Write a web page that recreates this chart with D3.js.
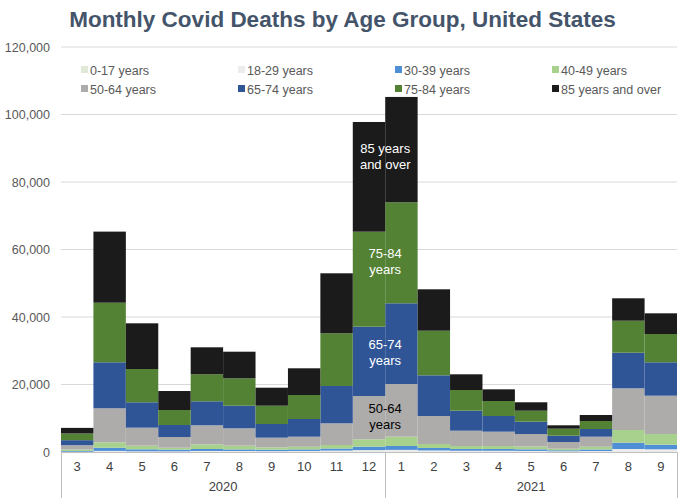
<!DOCTYPE html>
<html>
<head>
<meta charset="utf-8">
<script src="https://cdn.jsdelivr.net/npm/d3@7"></script>
<style>
	body { margin: 0; background: #fff; }
	text { font-family: "Liberation Sans", Arial, sans-serif; }
</style>
</head>
<body>
<div id="chart"></div>
<script>
// month labels and the year each one belongs to
const months = ["3", "4", "5", "6", "7", "8", "9", "10", "11", "12", "1", "2", "3", "4", "5", "6", "7", "8", "9"]
const years = ["2020", "2020", "2020", "2020", "2020", "2020", "2020", "2020", "2020", "2020",
	"2021", "2021", "2021", "2021", "2021", "2021", "2021", "2021", "2021"]

const ageGroups = ["0-17 years", "18-29 years", "30-39 years", "40-49 years",
	"50-64 years", "65-74 years", "75-84 years", "85 years and over"]

// deaths per month
const age0_17 = [5, 20, 15, 10, 25, 20, 15, 20, 30, 50, 60, 40, 30, 30, 20, 15, 20, 80, 80]
const age18_29 = [80, 300, 200, 200, 285, 270, 245, 290, 390, 520, 570, 410, 340, 330, 300, 195, 270, 810, 720]
const age30_39 = [220, 950, 585, 500, 580, 480, 430, 460, 620, 1000, 1150, 740, 530, 520, 480, 300, 460, 1870, 1360]
const age40_49 = [450, 1600, 1070, 560, 1390, 1100, 700, 800, 1030, 2190, 2760, 1180, 880, 900, 830, 470, 820, 3760, 3170]
const age50_64 = [1270, 10080, 5330, 3170, 5630, 5150, 2850, 2970, 6430, 12830, 15610, 8300, 4530, 4240, 3700, 1980, 2970, 12350, 11350]
const age65_74 = [1480, 13630, 7530, 3560, 7110, 6700, 4060, 5240, 11060, 20540, 23910, 12050, 5930, 4650, 3650, 1880, 2270, 10550, 9900]
const age75_84 = [1980, 17660, 9860, 4440, 8000, 8110, 5420, 7110, 15610, 28150, 29930, 13220, 6130, 4440, 3260, 2070, 2370, 9480, 8380]
const age85 = [1660, 21060, 13540, 5630, 8000, 7890, 5330, 7910, 17780, 32500, 31210, 12270, 4650, 3460, 2490, 1000, 1780, 6640, 6130]

const yTicks = [0, 20000, 40000, 60000, 80000, 100000, 120000]

const series = [age0_17, age18_29, age30_39, age40_49, age50_64, age65_74, age75_84, age85]
const colors = ["#dfe9d6", "#ececec", "#4f8fd6", "#a9d18e", "#aeabab", "#2f5597", "#548235", "#1b1b1b"]

const W = 689, H = 500
const margin = {top: 47, right: 12, bottom: 48, left: 61}
const w = W - margin.left - margin.right,
	h = H - margin.top - margin.bottom

const svg = d3.select("#chart")
	.append("svg")
	.attr("width", W)
	.attr("height", H)

svg.append("text")
	.attr("x", W / 2 - 2)
	.attr("y", 27)
	.attr("text-anchor", "middle")
	.attr("font-size", 22.5)
	.attr("font-weight", "bold")
	.attr("fill", "#44546a")
	.text("Monthly Covid Deaths by Age Group, United States")

const g = svg.append("g")
	.attr("transform", `translate(${margin.left},${margin.top})`)

const x = d3.scaleBand()
	.domain(d3.range(months.length))
	.range([0, w])
	.padding(0)

const y = d3.scaleLinear()
	.domain([0, 120000])
	.range([h, 0])

// gridlines
g.append("g")
	.selectAll("line")
	.data(yTicks)
	.enter()
	.append("line")
	.attr("x1", 0)
	.attr("x2", w)
	.attr("y1", d => y(d))
	.attr("y2", d => y(d))
	.attr("stroke", "#d9d9d9")
	.attr("stroke-width", 1)

const yAxis = g.append("g")
	.call(d3.axisLeft(y).tickValues(yTicks).tickFormat(d3.format(",")).tickSize(0).tickPadding(11))
yAxis.select(".domain").remove()
yAxis.selectAll("text")
	.attr("font-size", 12.5)
	.attr("fill", "#595959")
	.style("font-family", "'Liberation Sans', Arial, sans-serif")

// stacked bars
const table = months.map((m, i) => {
	const row = {i: i}
	ageGroups.forEach((a, k) => { row[a] = series[k][i] })
	return row
})

const stacked = d3.stack().keys(ageGroups)(table)

g.append("g")
	.selectAll("g")
	.data(stacked)
	.enter()
	.append("g")
	.attr("fill", (d, k) => colors[k])
	.selectAll("rect")
	.data(d => d)
	.enter()
	.append("rect")
	.attr("x", d => x(d.data.i))
	.attr("width", x.bandwidth())
	.attr("y", d => y(d[1]))
	.attr("height", d => y(d[0]) - y(d[1]))

// axis line and category boxes
g.append("line")
	.attr("x1", 0)
	.attr("x2", w)
	.attr("y1", h + 0.5)
	.attr("y2", h + 0.5)
	.attr("stroke", "#bfbfbf")

g.append("g")
	.selectAll("text")
	.data(months)
	.enter()
	.append("text")
	.attr("x", (d, i) => x(i) + x.bandwidth() / 2)
	.attr("y", h + 19)
	.attr("text-anchor", "middle")
	.attr("font-size", 13)
	.attr("fill", "#404040")
	.text(d => d)

const yearNames = Array.from(new Set(years))
const yearSpans = yearNames.map(yr => {
	const idx = years.map((v, i) => v === yr ? i : -1).filter(i => i >= 0)
	return {year: yr, start: x(idx[0]), end: x(idx[idx.length - 1]) + x.bandwidth()}
})

const seps = [0].concat(yearSpans.map(s => s.end))
g.append("g")
	.selectAll("line")
	.data(seps)
	.enter()
	.append("line")
	.attr("x1", d => Math.round(d) + 0.5)
	.attr("x2", d => Math.round(d) + 0.5)
	.attr("y1", h)
	.attr("y2", h + 46)
	.attr("stroke", "#bfbfbf")

g.append("g")
	.selectAll("text")
	.data(yearSpans)
	.enter()
	.append("text")
	.attr("x", d => (d.start + d.end) / 2)
	.attr("y", h + 39)
	.attr("text-anchor", "middle")
	.attr("font-size", 13)
	.attr("fill", "#404040")
	.text(d => d.year)

// in-bar labels between December and January
const labelled = [
	{k: 7, lines: ["85 years", "and over"], fill: "#fff", shift: -7},
	{k: 6, lines: ["75-84", "years"], fill: "#fff", shift: -5},
	{k: 5, lines: ["65-74", "years"], fill: "#fff", shift: 0},
	{k: 4, lines: ["50-64", "years"], fill: "#000", shift: 2}
]
const dec = 9, jan = 10
labelled.forEach(function(l) {
	const s = stacked[l.k]
	const mid = ((s[dec][0] + s[dec][1]) / 2 + (s[jan][0] + s[jan][1]) / 2) / 2
	const t = g.append("text")
		.attr("x", x(jan))
		.attr("y", y(mid) - 3 + l.shift)
		.attr("text-anchor", "middle")
		.attr("font-size", 13)
		.attr("fill", l.fill)
	l.lines.forEach((ln, j) => {
		t.append("tspan")
			.attr("x", x(jan))
			.attr("dy", j === 0 ? 0 : 16)
			.text(ln)
	})
})

// legend
const legend = svg.append("g")
	.attr("transform", "translate(81, 70)")

ageGroups.forEach(function(a, k) {
	const col = k % 4, row = Math.floor(k / 4)
	const item = legend.append("g")
		.attr("transform", `translate(${col * 157},${row * 19})`)
	item.append("rect")
		.attr("x", 0)
		.attr("y", -4)
		.attr("width", 7)
		.attr("height", 7)
		.attr("fill", colors[k])
	item.append("text")
		.attr("x", 9)
		.attr("y", 4.5)
		.attr("font-size", 12.5)
		.attr("fill", "#595959")
		.text(a)
})
</script>
</body>
</html>
